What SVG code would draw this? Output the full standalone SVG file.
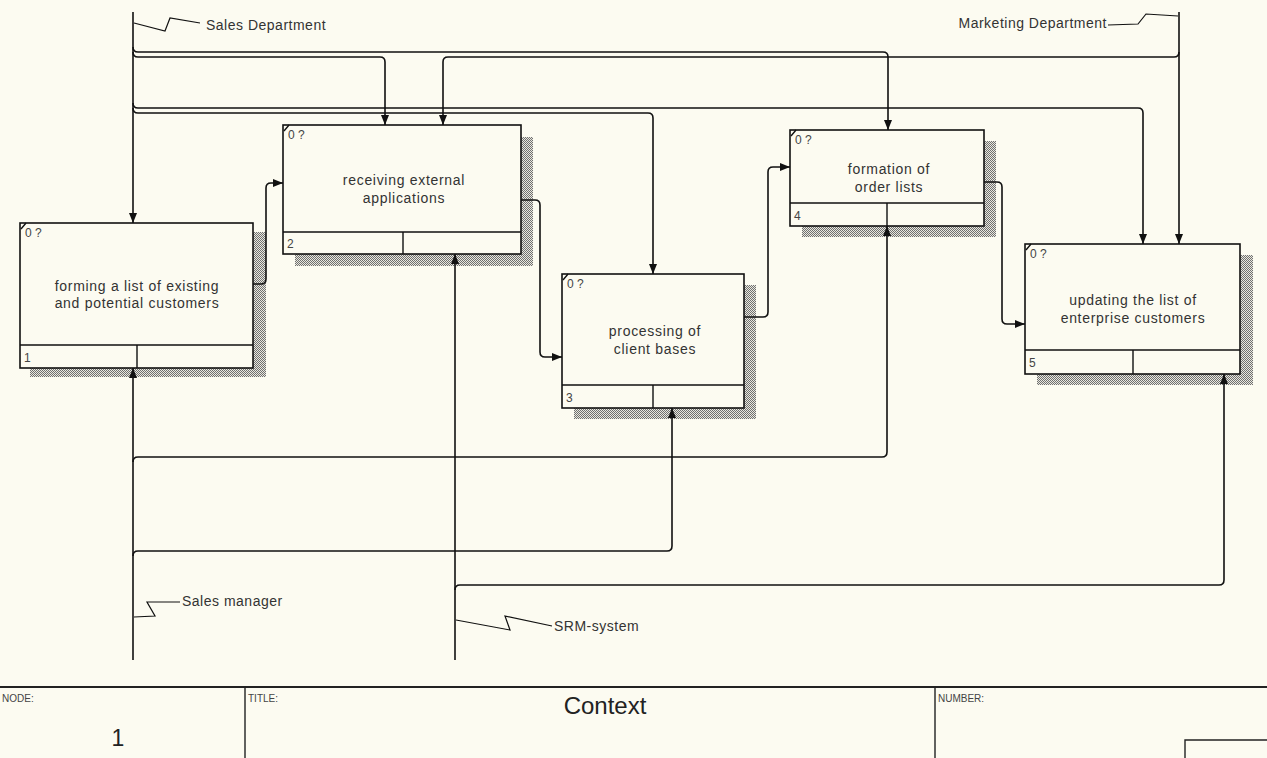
<svg xmlns="http://www.w3.org/2000/svg" width="1267" height="758" viewBox="0 0 1267 758">
<style>
  .box{fill:#fcfbf1;stroke:#111;stroke-width:1.6}
  .sep{stroke:#111;stroke-width:1.4;fill:none}
  .shadow{fill:url(#hatch)}
  .lbl{font-family:"Liberation Sans",Arial,sans-serif;font-size:14px;fill:#333;letter-spacing:0.7px}
  .small{font-family:"Liberation Sans",Arial,sans-serif;font-size:12px;fill:#444}
  .arr{fill:none;stroke:#111;stroke-width:1.6}
  .sq{fill:none;stroke:#111;stroke-width:1.2}
  .alab{font-family:"Liberation Sans",Arial,sans-serif;font-size:14px;fill:#333;letter-spacing:0.5px}
  .frame{stroke:#222;stroke-width:1.4;fill:none}
  .ftxt{font-family:"Liberation Sans",Arial,sans-serif;font-size:10px;fill:#444}
</style>
<defs>
  <pattern id="hatch" width="2" height="2" patternUnits="userSpaceOnUse">
    <rect width="2" height="2" fill="#e9e8df"/>
    <rect width="1" height="1" fill="#707070"/>
    <rect x="1" y="1" width="1" height="1" fill="#707070"/>
  </pattern>
  <marker id="ah" viewBox="0 0 10 8" refX="10" refY="4" markerWidth="10" markerHeight="8" markerUnits="userSpaceOnUse" orient="auto">
    <path d="M0,0 L10,4 L0,8 Z" fill="#111"/>
  </marker>
</defs>
<rect width="1267" height="758" fill="#fcfbf1"/>

<g id="box1">
  <rect class="shadow" x="30" y="232" width="236" height="145"/>
  <rect class="box" x="20" y="223" width="233" height="145"/>
  <path class="sep" d="M20,345 L253,345 M137,345 L137,368 M21,229 L26,223"/>
  <text class="small" x="25" y="237">0 ?</text>
  <text class="small" x="24" y="362">1</text>
  <text class="lbl" x="137" y="291" text-anchor="middle">forming a list of existing</text>
  <text class="lbl" x="137" y="308" text-anchor="middle">and potential customers</text>
</g>

<g id="box2">
  <rect class="shadow" x="295" y="137" width="238" height="129"/>
  <rect class="box" x="283" y="125" width="238" height="129"/>
  <path class="sep" d="M283,232 L521,232 M403,232 L403,254 M284,131 L289,125"/>
  <text class="small" x="288" y="139">0 ?</text>
  <text class="small" x="287" y="248">2</text>
  <text class="lbl" x="404" y="185" text-anchor="middle">receiving external</text>
  <text class="lbl" x="404" y="203" text-anchor="middle">applications</text>
</g>

<g id="box3">
  <rect class="shadow" x="574" y="285" width="182" height="134"/>
  <rect class="box" x="562" y="274" width="182" height="134"/>
  <path class="sep" d="M562,385 L744,385 M653,385 L653,408 M563,280 L568,274"/>
  <text class="small" x="567" y="288">0 ?</text>
  <text class="small" x="566" y="402">3</text>
  <text class="lbl" x="655" y="336" text-anchor="middle">processing of</text>
  <text class="lbl" x="655" y="354" text-anchor="middle">client bases</text>
</g>

<g id="box4">
  <rect class="shadow" x="802" y="141" width="194" height="96"/>
  <rect class="box" x="790" y="130" width="194" height="96"/>
  <path class="sep" d="M790,203 L984,203 M887,203 L887,226 M791,136 L796,130"/>
  <text class="small" x="795" y="144">0 ?</text>
  <text class="small" x="794" y="220">4</text>
  <text class="lbl" x="889" y="174" text-anchor="middle">formation of</text>
  <text class="lbl" x="889" y="192" text-anchor="middle">order lists</text>
</g>

<g id="box5">
  <rect class="shadow" x="1037" y="255" width="216" height="130"/>
  <rect class="box" x="1025" y="244" width="215" height="130"/>
  <path class="sep" d="M1025,350 L1240,350 M1133,350 L1133,374 M1026,250 L1031,244"/>
  <text class="small" x="1030" y="258">0 ?</text>
  <text class="small" x="1029" y="367">5</text>
  <text class="lbl" x="1133" y="305" text-anchor="middle">updating the list of</text>
  <text class="lbl" x="1133" y="323" text-anchor="middle">enterprise customers</text>
</g>

<g id="connectors">
  <!-- Sales Department -->
  <path class="arr" d="M133,12 L133,223" marker-end="url(#ah)"/>
  <path class="arr" d="M133,47 Q133,52 138,52 L883,52 Q888,52 888,57 L888,130" marker-end="url(#ah)"/>
  <path class="arr" d="M133,52 Q133,57 138,57 L380,57 Q385,57 385,62 L385,125" marker-end="url(#ah)"/>
  <path class="arr" d="M133,103 Q133,108 138,108 L1138,108 Q1143,108 1143,113 L1143,244" marker-end="url(#ah)"/>
  <path class="arr" d="M133,108 Q133,113 138,113 L648,113 Q653,113 653,118 L653,274" marker-end="url(#ah)"/>
  <polyline class="sq" points="134,23 165,31 170,18 200,23"/>
  <!-- Marketing Department -->
  <path class="arr" d="M1179,12 L1179,244" marker-end="url(#ah)"/>
  <path class="arr" d="M1179,52 Q1179,57 1174,57 L448,57 Q443,57 443,62 L443,125" marker-end="url(#ah)"/>
  <polyline class="sq" points="1108,25 1138,24 1146,14 1178,16"/>
  <!-- box to box -->
  <path class="arr" d="M253,284 L261,284 Q266,284 266,279 L266,188 Q266,183 271,183 L283,183" marker-end="url(#ah)"/>
  <path class="arr" d="M521,200 L535,200 Q540,200 540,205 L540,352 Q540,357 545,357 L562,357" marker-end="url(#ah)"/>
  <path class="arr" d="M744,317 L763,317 Q768,317 768,312 L768,172 Q768,167 773,167 L790,167" marker-end="url(#ah)"/>
  <path class="arr" d="M984,182 L997,182 Q1002,182 1002,187 L1002,319 Q1002,324 1007,324 L1025,324" marker-end="url(#ah)"/>
  <!-- Sales manager -->
  <path class="arr" d="M133,660 L133,368" marker-end="url(#ah)"/>
  <path class="arr" d="M133,462 Q133,457 138,457 L882,457 Q887,457 887,452 L887,226" marker-end="url(#ah)"/>
  <path class="arr" d="M133,556 Q133,551 138,551 L667,551 Q672,551 672,546 L672,408" marker-end="url(#ah)"/>
  <polyline class="sq" points="134,617 155,616 147,602 180,602"/>
  <!-- SRM-system -->
  <path class="arr" d="M455,660 L455,254" marker-end="url(#ah)"/>
  <path class="arr" d="M455,590 Q455,585 460,585 L1219,585 Q1224,585 1224,580 L1224,374" marker-end="url(#ah)"/>
  <polyline class="sq" points="456,620 510,630 505,616 552,626"/>
</g>

<g id="labels">
  <text class="alab" x="206" y="30">Sales Department</text>
  <text class="alab" x="1107" y="28" text-anchor="end">Marketing Department</text>
  <text class="alab" x="182" y="606">Sales manager</text>
  <text class="alab" x="554" y="631">SRM-system</text>
</g>

<g id="frame">
  <line x1="0" y1="687" x2="1267" y2="687" stroke="#222" stroke-width="2"/>
  <path class="frame" d="M245,687 L245,758 M935,687 L935,758 M1185,758 L1185,740 L1267,740"/>
  <text class="ftxt" x="2" y="702">NODE:</text>
  <text class="ftxt" x="248" y="702">TITLE:</text>
  <text class="ftxt" x="938" y="702">NUMBER:</text>
  <text x="118" y="746" text-anchor="middle" font-family="Liberation Sans, Arial, sans-serif" font-size="23" fill="#222">1</text>
  <text x="605" y="714" text-anchor="middle" font-family="Liberation Sans, Arial, sans-serif" font-size="24" fill="#222">Context</text>
</g>
</svg>
